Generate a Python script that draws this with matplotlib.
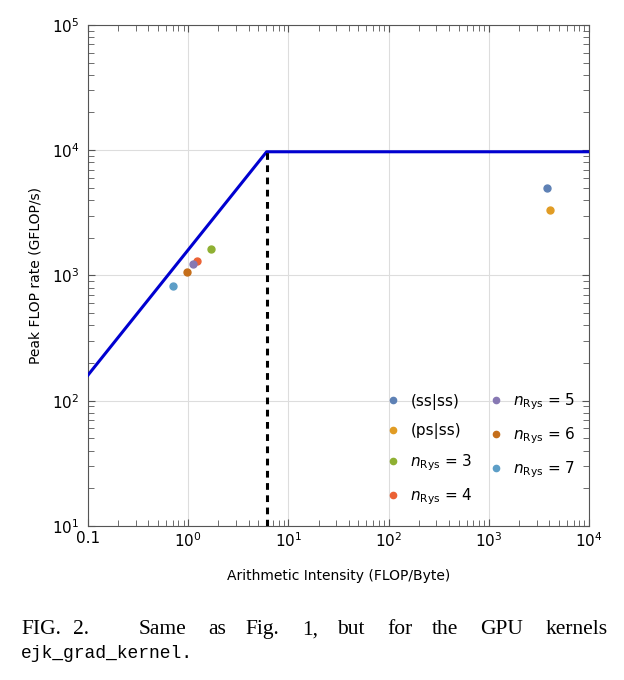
import matplotlib
matplotlib.use("Agg")
import matplotlib.pyplot as plt
import numpy as np

# roofline parameters
peak_flops = 9700.0      # GFLOP/s
bandwidth = 1600.0       # GB/s
ridge = peak_flops / bandwidth

# kernels: (label, arithmetic intensity, flop rate, colour)
labels = ["(ss|ss)", "(ps|ss)", r"$n_{\mathrm{Rys}}$ = 3", r"$n_{\mathrm{Rys}}$ = 4",
          r"$n_{\mathrm{Rys}}$ = 5", r"$n_{\mathrm{Rys}}$ = 6", r"$n_{\mathrm{Rys}}$ = 7"]
intensity = [3820, 4100, 1.70, 1.22, 1.12, 0.98, 0.71]
flop_rate = [4950, 3350, 1630, 1300, 1240, 1070, 830]
colors = ["#5E81B5", "#E19C24", "#8FB032", "#EB6235", "#8778B3", "#C56E1A", "#5D9EC7"]

# caption words, justified over the first line (left edges in px)
caption_words = ["FIG.", "2.", "Same", "as", "Fig.", "1,", "but", "for", "the", "GPU", "kernels"]
caption_x = [21, 73, 139, 208, 245, 302, 337, 387, 432, 480, 546]

fig = plt.figure(figsize=(6.24, 6.8), dpi=100)
ax = fig.add_axes([0.141, 0.2265, 0.803, 0.737])

x = np.array([0.1, ridge, 1e4])
ax.plot(x, np.minimum(bandwidth * x, peak_flops), color="#0000d0", lw=2.2, zorder=3)
ax.plot([ridge, ridge], [10, peak_flops], color="black", lw=2.2, ls=(0, (2.2, 1.8)), zorder=3)

for lab, xi, yi, c in zip(labels, intensity, flop_rate, colors):
    ax.plot(xi, yi, "o", color=c, ms=5, label=lab, zorder=4)

ax.set_xscale("log")
ax.set_yscale("log")
ax.set_xlim(0.1, 1e4)
ax.set_ylim(10, 1e5)
ax.set_xticks([0.1, 1, 10, 100, 1000, 10000])
ax.set_xticklabels(["0.1", r"$10^0$", r"$10^1$", r"$10^2$", r"$10^3$", r"$10^4$"])
ax.set_yticks([10, 100, 1000, 1e4, 1e5])
ax.set_yticklabels([r"$10^1$", r"$10^2$", r"$10^3$", r"$10^4$", r"$10^5$"])
ax.grid(True, which="major", color="#dddddd", lw=0.8)
ax.tick_params(which="both", direction="in", top=True, right=True, labelsize=11, colors="#555555",
               labelcolor="black")
ax.tick_params(which="major", length=5)
ax.tick_params(which="minor", length=4)
ax.tick_params(axis="y", pad=6)
for s in ax.spines.values():
    s.set_color("#555555")

ax.set_xlabel("Arithmetic Intensity (FLOP/Byte)", fontsize=10, labelpad=14)
ax.set_ylabel("Peak FLOP rate (GFLOP/s)", fontsize=10, labelpad=7)

ax.legend(loc="lower right", ncol=2, frameon=False, fontsize=11, handletextpad=0.5,
          labelspacing=0.88, columnspacing=0.9, markerscale=0.9, handlelength=1.2,
          bbox_to_anchor=(1.0, 0.01))

for w, px in zip(caption_words, caption_x):
    fig.text(px / 624, 0.067, w, family="Liberation Serif", fontsize=15.5,
             ha="left", va="baseline")
fig.text(21 / 624, 0.032, "ejk_grad_kernel.", family="Liberation Mono", fontsize=13,
         ha="left", va="baseline")

fig.savefig("out.png", dpi=100)
